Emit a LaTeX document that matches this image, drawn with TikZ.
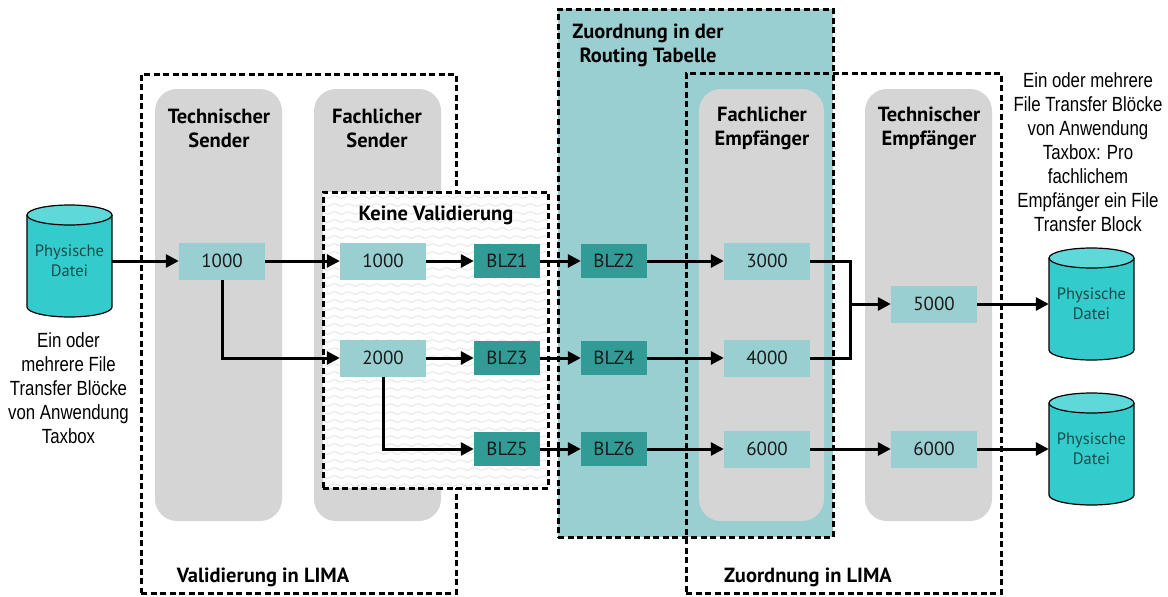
\documentclass[tikz,border=0pt]{standalone}
\usepackage{fontspec}
\setmainfont{PT Sans}
\newfontfamily\narrowfont[FakeStretch=0.82]{Liberation Sans}
\usetikzlibrary{arrows.meta,decorations.pathmorphing}
\definecolor{lteal}{HTML}{99CFD1}
\definecolor{dteal}{HTML}{339B96}
\definecolor{cylbody}{HTML}{33CCCC}
\definecolor{cyltop}{HTML}{5ED8D8}
\definecolor{colgray}{HTML}{D5D5D5}
\definecolor{wavegray}{HTML}{E0E0E0}
\definecolor{txt}{HTML}{1A1A1A}
\definecolor{cyltxt}{HTML}{1B4A4A}
\tikzset{
  x=1pt, y=-1pt,
  numbox/.style={fill=lteal, minimum width=86, minimum height=37, inner sep=0pt,
    text=txt, font=\fontsize{19}{22}\selectfont},
  blzbox/.style={fill=dteal, minimum width=66, minimum height=34, inner sep=0pt,
    text=txt, font=\fontsize{19}{22}\selectfont},
  column/.style={fill=colgray, rounded corners=22, inner sep=0pt},
  dbox/.style={draw=black, line width=3pt, dash pattern=on 6pt off 3.5pt, inner sep=0pt},
  title/.style={align=center, font=\bfseries\fontsize{20.5}{24}\selectfont, inner sep=0pt},
  note/.style={align=center, font=\narrowfont\fontsize{20.5}{24}\selectfont, inner sep=0pt},
  cyltext/.style={align=center, minimum width=85, minimum height=112, inner sep=0pt,
    text=cyltxt, font=\fontsize{16.5}{20}\selectfont},
  arr/.style={line width=3pt, -{Triangle[length=13pt,width=13pt]}, line join=miter},
  ln/.style={line width=3pt, line join=miter},
  wave/.style={draw=wavegray, line width=0.7pt, decorate,
    decoration={snake, segment length=14, amplitude=1.4}},
}
\newcommand{\cylshape}[2]{%
  \fill[cylbody] (#1-42.5,#2-46) rectangle (#1+42.5,#2+46);
  \fill[cylbody] (#1,#2+46) ellipse[x radius=42.5pt, y radius=10pt];
  \draw[line width=1.2pt] (#1-42.5,#2-46) -- (#1-42.5,#2+46)
     arc[start angle=180, end angle=360, x radius=42.5pt, y radius=10pt] -- (#1+42.5,#2-46);
  \filldraw[fill=cyltop, line width=1.2pt] (#1,#2-46) ellipse[x radius=42.5pt, y radius=10pt];
}
\begin{document}
\begin{tikzpicture}
\useasboundingbox (0,0) rectangle (1168,597);
\fill[white] (0,0) rectangle (1168,597);

% routing table region
\node[dbox, fill=lteal, minimum width=275, minimum height=528] (routing) at (695.5,273) {};
\node[title, anchor=center] (routingT) at (648,45) {Zuordnung in der\\Routing Tabelle};

% LIMA regions
\node[dbox, minimum width=315, minimum height=519] (limaL) at (298.5,333.5) {};
\node[dbox, minimum width=315, minimum height=520] (limaR) at (843.5,333) {};
\node[title] (limaLT) at (263,577) {Validierung in LIMA};
\node[title] (limaRT) at (808,577) {Zuordnung in LIMA};

% columns
\node[column, minimum width=127, minimum height=432] (colTS) at (218.5,305) {};
\node[column, minimum width=127, minimum height=432] (colFS) at (377.5,305) {};
\node[column, minimum width=125, minimum height=432] (colFE) at (761.5,305) {};
\node[column, minimum width=127, minimum height=432] (colTE) at (928.5,305) {};
\node[title] (colTST) at (219,128) {Technischer\\Sender};
\node[title] (colFST) at (377,128) {Fachlicher\\Sender};
\node[title] (colFET) at (762,128) {Fachlicher\\Empfänger};
\node[title] (colTET) at (929,128) {Technischer\\Empfänger};

% Keine Validierung region
\fill[white] (323,192) rectangle (548,488);
\begin{scope}
  \clip (323,192) rectangle (548,488);
  \foreach \yy in {197,205,...,490} {
    \draw[wave] (316,\yy) -- (556,\yy);
  }
\end{scope}
\node[dbox, minimum width=225, minimum height=296] (keine) at (435.5,340) {};
\node[title] (keineT) at (436,215) {Keine Validierung};

% cylinders
\cylshape{69.5}{261}
\cylshape{1091.5}{304}
\cylshape{1091.5}{449}
\node[cyltext] (cylL) at (69.5,261) {Physische\\Datei};
\node[cyltext] (cylR1) at (1091.5,304) {Physische\\Datei};
\node[cyltext] (cylR2) at (1091.5,449) {Physische\\Datei};

% notes
\node[note] (noteL) at (68.5,388) {Ein oder\\mehrere File\\Transfer Blöcke\\von Anwendung\\Taxbox};
\node[note] (noteR) at (1088,152) {Ein oder mehrere\\File Transfer Blöcke\\von Anwendung\\Taxbox: Pro\\fachlichem\\Empfänger ein File\\Transfer Block};

% number nodes
\node[numbox] (t1000) at (222,261) {1000};
\node[numbox] (f1000) at (383,261) {1000};
\node[numbox] (f2000) at (383,358) {2000};
\node[blzbox] (b1) at (507,261) {BLZ1};
\node[blzbox] (b3) at (507,358) {BLZ3};
\node[blzbox] (b5) at (507,449) {BLZ5};
\node[blzbox] (b2) at (614,261) {BLZ2};
\node[blzbox] (b4) at (614,358) {BLZ4};
\node[blzbox] (b6) at (614,449) {BLZ6};
\node[numbox] (e3000) at (767,261) {3000};
\node[numbox] (e4000) at (767,358) {4000};
\node[numbox] (e6000) at (767,449) {6000};
\node[numbox] (m5000) at (934,304) {5000};
\node[numbox] (m6000) at (934,449) {6000};
\coordinate (j) at (850,304);

% connectors
\draw[arr] (cylL) -- (t1000);
\draw[arr] (t1000) -- (f1000);
\draw[arr] (t1000.south) |- (f2000.west);
\draw[arr] (f1000) -- (b1);
\draw[arr] (b1) -- (b2);
\draw[arr] (b2) -- (e3000);
\draw[arr] (f2000) -- (b3);
\draw[arr] (b3) -- (b4);
\draw[arr] (b4) -- (e4000);
\draw[arr] (f2000.south) |- (b5.west);
\draw[arr] (b5) -- (b6);
\draw[arr] (b6) -- (e6000);
\draw[arr] (e6000) -- (m6000);
\draw[arr] (m6000) -- (cylR2);
\draw[arr] (e3000.east) -| (j) -- (m5000.west);
\draw[ln] (e4000.east) -| (j);
\draw[arr] (m5000) -- (cylR1);
\end{tikzpicture}
\end{document}
